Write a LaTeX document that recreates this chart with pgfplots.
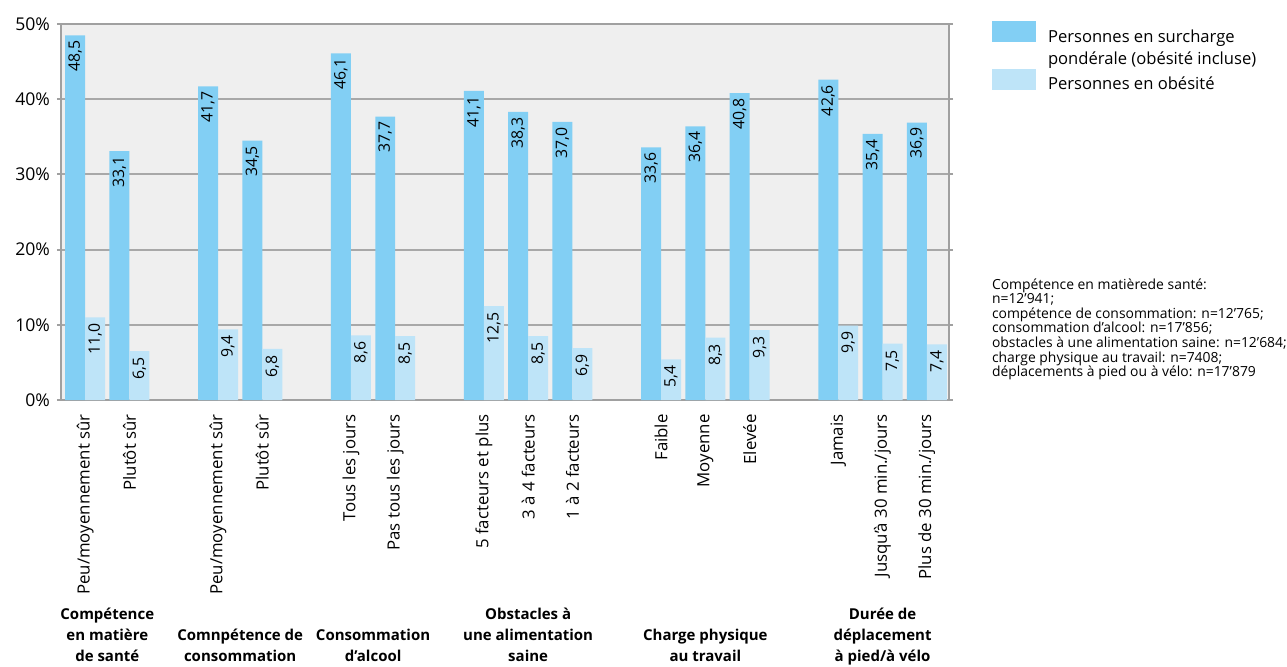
\documentclass[border=0pt]{standalone}
\usepackage{fontspec}
\setmainfont{Open Sans}
\usepackage{pgfplots}
\pgfplotsset{compat=1.18}
\definecolor{darkbar}{HTML}{82CFF4}
\definecolor{lightbar}{HTML}{BEE4F8}
\definecolor{plotbg}{HTML}{EFEFEF}
\definecolor{gridc}{HTML}{A8A8A8}
\definecolor{framec}{HTML}{A0A0A0}
\begin{document}
\begin{tikzpicture}
\useasboundingbox (-30.5pt,-133pt) rectangle (613pt,200pt);
\begin{axis}[
  width=444pt, height=188pt, scale only axis,
  xmin=-0.545, xmax=19.5, ymin=0, ymax=50,
  clip=false,
  axis background/.style={fill=plotbg},
  axis line style={framec, line width=1.2pt},
  ymajorgrids, grid style={gridc, line width=1pt},
  ytick={0,10,20,30,40,50},
  yticklabels={0\%,10\%,20\%,30\%,40\%,50\%},
  ytick style={framec, line width=1pt},
  tick align=outside, major tick length=2pt,
  xtick={0,1,3,4,6,7,9,10,11,13,14,15,17,18,19},
  xticklabels={Peu/moyennement sûr, Plutôt sûr, Peu/moyennement sûr, Plutôt sûr, Tous les jours, Pas tous les jours, 5 facteurs et plus, 3 à 4 facteurs, 1 à 2 facteurs, Faible, Moyenne, Elevée, Jamais, Jusqu’à 30 min./jours, Plus de 30 min./jours},
  xtick style={draw=none},
  xticklabel style={rotate=90, anchor=east, inner xsep=5pt, font=\fontsize{8.4}{10}\selectfont},
  yticklabel style={font=\fontsize{8.8}{10}\selectfont},
  /pgf/number format/assume math mode=true,
  /pgf/number format/.cd, use comma, fixed, fixed zerofill, precision=1,
  /pgfplots/.cd,
  bar width=0.451,
  nodes near coords,
  legend style={at={(1.048,1.01)}, anchor=north west, draw=none, fill=none, font=\fontsize{8.3}{11}\selectfont, row sep=9.5pt, column sep=4pt, inner sep=0pt},
  legend cell align=left,
]
\addplot[ybar, bar shift=-0.2255, fill=darkbar, draw=none,
  every node near coord/.style={xshift=-5pt, rotate=90, anchor=east, inner xsep=2.5pt, font=\fontsize{7.9}{9}\selectfont, text=black},
  legend image code/.code={\fill[darkbar] (0pt,-2.5pt) rectangle (22pt,8pt);}]
  coordinates {(0,48.5) (1,33.1) (3,41.7) (4,34.5) (6,46.1) (7,37.7) (9,41.1) (10,38.3) (11,37.0) (13,33.6) (14,36.4) (15,40.8) (17,42.6) (18,35.4) (19,36.9)};
\addlegendentry{\begin{tabular}[t]{@{}l@{}}Personnes en surcharge\\pondérale (obésité incluse)\end{tabular}}
\addplot[ybar, bar shift=0.2255, fill=lightbar, draw=none,
  every node near coord/.style={xshift=5pt, rotate=90, anchor=east, inner xsep=3pt, font=\fontsize{7.9}{9}\selectfont, text=black},
  legend image code/.code={\fill[lightbar] (0pt,-2.5pt) rectangle (22pt,8pt);}]
  coordinates {(0,11.0) (1,6.5) (3,9.4) (4,6.8) (6,8.6) (7,8.5) (9,12.5) (10,8.5) (11,6.9) (13,5.4) (14,8.3) (15,9.3) (17,9.9) (18,7.5) (19,7.4)};
\addlegendentry{Personnes en obésité}
\begin{scope}[every node/.style={anchor=south, align=center, inner sep=0pt, font=\bfseries\fontsize{7.5}{10.5}\selectfont, yshift=-134.15pt}]
\node at (axis cs:0.5,0) {Compétence\\en matière\\de santé\strut};
\node at (axis cs:3.5,0) {Comnpétence de\\consommation\strut};
\node at (axis cs:6.5,0) {Consommation\\d’alcool\strut};
\node at (axis cs:10,0) {Obstacles à\\une alimentation\\saine\strut};
\node at (axis cs:14,0) {Charge physique\\au travail\strut};
\node at (axis cs:18,0) {Durée de\\déplacement\\à pied/à vélo\strut};
\end{scope}
\node[anchor=north west, align=left, inner sep=0pt, font=\fontsize{6.95}{7.3}\selectfont] at (axis description cs:1.048,0.3245) {Compétence en matièrede santé:\\n=12’941;\\compétence de consommation: n=12’765;\\consommation d’alcool: n=17’856;\\obstacles à une alimentation saine: n=12’684;\\charge physique au travail: n=7408;\\déplacements à pied ou à vélo: n=17’879};
\end{axis}
\end{tikzpicture}
\end{document}
